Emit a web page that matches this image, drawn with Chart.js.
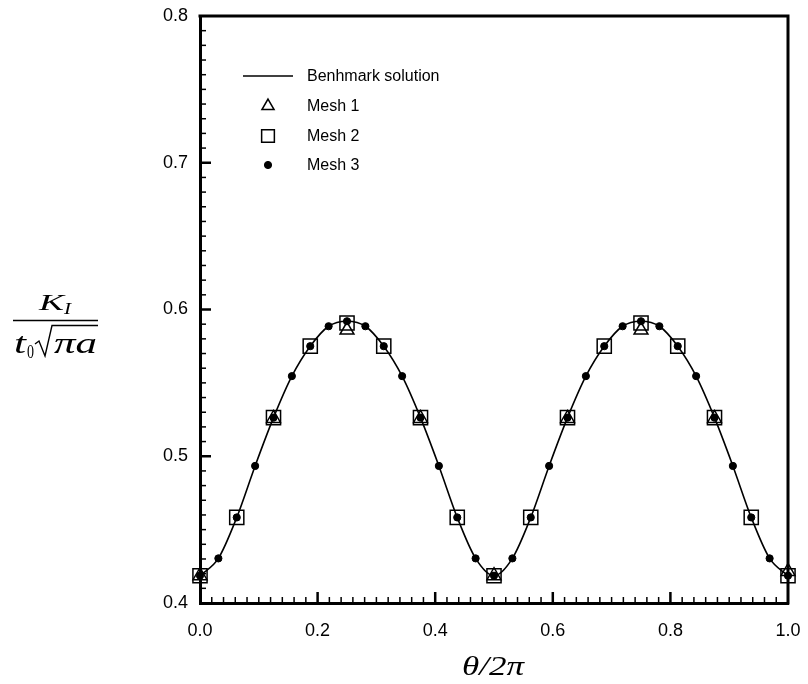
<!DOCTYPE html>
<html lang="en">
<head>
<meta charset="UTF-8">
<title>K_I along the crack front</title>
<script src="https://cdn.jsdelivr.net/npm/chart.js"></script>
<style>
  body { margin: 0; background: #fff; }
  #wrap { width: 808px; height: 684px; }
</style>
</head>
<body>
<div id="wrap"><canvas id="kiChart" width="808" height="684"></canvas></div>
<script>
// theta / 2pi sample positions
const theta32 = [0, 0.03125, 0.0625, 0.09375, 0.125, 0.15625, 0.1875, 0.21875, 0.25,
  0.28125, 0.3125, 0.34375, 0.375, 0.40625, 0.4375, 0.46875, 0.5,
  0.53125, 0.5625, 0.59375, 0.625, 0.65625, 0.6875, 0.71875, 0.75,
  0.78125, 0.8125, 0.84375, 0.875, 0.90625, 0.9375, 0.96875, 1];
const theta16 = [0, 0.0625, 0.125, 0.1875, 0.25, 0.3125, 0.375, 0.4375, 0.5,
  0.5625, 0.625, 0.6875, 0.75, 0.8125, 0.875, 0.9375, 1];
const theta8 = [0, 0.125, 0.25, 0.375, 0.5, 0.625, 0.75, 0.875, 1];

// normalized K_I values
const benchmark = [0.4186, 0.4304, 0.4583, 0.4934, 0.5263, 0.5546, 0.5750, 0.5886, 0.5920,
  0.5886, 0.5750, 0.5546, 0.5263, 0.4934, 0.4583, 0.4304, 0.4186,
  0.4304, 0.4583, 0.4934, 0.5263, 0.5546, 0.5750, 0.5886, 0.5920,
  0.5886, 0.5750, 0.5546, 0.5263, 0.4934, 0.4583, 0.4304, 0.4186];
const mesh1 = [0.4186, 0.5258, 0.5860, 0.5258, 0.4186, 0.5258, 0.5860, 0.5258, 0.4215];
const mesh2 = [0.4186, 0.4583, 0.5263, 0.5750, 0.5908, 0.5750, 0.5263, 0.4583, 0.4186,
  0.4583, 0.5263, 0.5750, 0.5908, 0.5750, 0.5263, 0.4583, 0.4186];
const mesh3 = [0.4186, 0.4304, 0.4583, 0.4934, 0.5263, 0.5546, 0.5750, 0.5886, 0.5920,
  0.5886, 0.5750, 0.5546, 0.5263, 0.4934, 0.4583, 0.4304, 0.4186,
  0.4304, 0.4583, 0.4934, 0.5263, 0.5546, 0.5750, 0.5886, 0.5920,
  0.5886, 0.5750, 0.5546, 0.5263, 0.4934, 0.4583, 0.4304, 0.4186];

const xTicks = [0, 0.2, 0.4, 0.6, 0.8, 1.0];
const yTicks = [0.4, 0.5, 0.6, 0.7, 0.8];

const SANS = '"Liberation Sans", Arial, sans-serif';
const SERIF = '"Liberation Serif", "Times New Roman", serif';

function pts(xs, ys) {
  return xs.map((x, i) => ({ x: x, y: ys[i] }));
}

// draw text squeezed/stretched to a given width
function fitText(ctx, str, x, y, w, font) {
  ctx.font = font;
  const m = ctx.measureText(str).width;
  ctx.save();
  ctx.translate(x, y);
  ctx.scale(w / m, 1);
  ctx.fillText(str, 0, 0);
  ctx.restore();
}

// inward minor/major ticks + top/right frame
const frameTicks = {
  id: 'frameTicks',
  afterDraw(chart) {
    const ctx = chart.ctx, a = chart.chartArea;
    const xs = chart.scales.x, ys = chart.scales.y;
    ctx.save();
    ctx.strokeStyle = '#000';
    ctx.lineWidth = 3;
    ctx.beginPath();
    ctx.moveTo(a.left - 1.5, a.top);
    ctx.lineTo(a.right, a.top);
    ctx.lineTo(a.right, a.bottom + 1.5);
    ctx.stroke();

    for (let i = 1; i < 50; i++) {
      const px = xs.getPixelForValue(i / 50);
      const major = i % 10 === 0;
      ctx.lineWidth = major ? 2.5 : 1.5;
      ctx.beginPath();
      ctx.moveTo(px, a.bottom);
      ctx.lineTo(px, a.bottom - (major ? 11 : 6));
      ctx.stroke();
    }
    for (let i = 1; i < 40; i++) {
      const py = ys.getPixelForValue(0.4 + i / 100);
      const major = i % 10 === 0;
      ctx.lineWidth = major ? 2.5 : 1.5;
      ctx.beginPath();
      ctx.moveTo(a.left, py);
      ctx.lineTo(a.left + (major ? 11 : 6), py);
      ctx.stroke();
    }
    ctx.restore();
  }
};

// axis titles
const axisTitles = {
  id: 'axisTitles',
  afterDraw(chart) {
    const ctx = chart.ctx;
    ctx.save();
    ctx.fillStyle = '#000';
    ctx.strokeStyle = '#000';
    ctx.textAlign = 'left';
    ctx.textBaseline = 'alphabetic';

    // K_I / (t_0 sqrt(pi a))
    fitText(ctx, 'K', 39, 310, 25, 'italic 23px ' + SERIF);
    fitText(ctx, 'I', 64, 314, 7, 'italic 16px ' + SERIF);
    ctx.lineWidth = 1.5;
    ctx.beginPath();
    ctx.moveTo(13, 320.5);
    ctx.lineTo(98, 320.5);
    ctx.stroke();
    fitText(ctx, 't', 14, 353, 12, 'italic 30px ' + SERIF);
    fitText(ctx, '0', 27, 358, 7, '18px ' + SERIF);
    ctx.lineWidth = 1.4;
    ctx.beginPath();
    ctx.moveTo(35, 344);
    ctx.lineTo(39, 341);
    ctx.lineTo(45, 356);
    ctx.lineTo(52, 325.5);
    ctx.lineTo(98, 325.5);
    ctx.stroke();
    fitText(ctx, '\u03C0a', 54, 353, 43, 'italic 30px ' + SERIF);

    // theta / 2 pi
    fitText(ctx, '\u03B8/2\u03C0', 462, 675, 62, 'italic 28px ' + SERIF);
    ctx.restore();
  }
};

// legend inside the plot
const insideLegend = {
  id: 'insideLegend',
  afterDraw(chart) {
    const ctx = chart.ctx;
    const rows = [76, 106, 136, 165];
    const symX = 268, textX = 307;
    ctx.save();
    ctx.font = '16px ' + SANS;
    ctx.textBaseline = 'middle';
    chart.data.datasets.forEach((ds, i) => {
      const y = rows[i];
      ctx.strokeStyle = ds.borderColor;
      ctx.lineWidth = ds.borderWidth;
      if (ds.pointRadius === 0) {
        ctx.beginPath();
        ctx.moveTo(243, y);
        ctx.lineTo(293, y);
        ctx.stroke();
      } else {
        ctx.fillStyle = ds.backgroundColor;
        Chart.helpers.drawPoint(ctx, {
          pointStyle: ds.pointStyle,
          radius: ds.legendRadius,
          borderWidth: ds.borderWidth,
          rotation: 0
        }, symX, y);
      }
      ctx.fillStyle = '#000';
      ctx.fillText(ds.label, textX, y + 1);
    });
    ctx.restore();
  }
};

const tickFont = { family: SANS, size: 18 };

new Chart(document.getElementById('kiChart'), {
  type: 'scatter',
  data: {
    datasets: [
      {
        label: 'Benhmark solution',
        data: pts(theta32, benchmark),
        showLine: true,
        cubicInterpolationMode: 'monotone',
        borderColor: '#000',
        borderWidth: 1.6,
        pointRadius: 0,
        order: 3,
        clip: false
      },
      {
        label: 'Mesh 1',
        data: pts(theta8, mesh1),
        pointStyle: 'triangle',
        pointRadius: 8,
        legendRadius: 7,
        borderColor: '#000',
        backgroundColor: 'rgba(0,0,0,0)',
        borderWidth: 1.5,
        order: 2,
        clip: false
      },
      {
        label: 'Mesh 2',
        data: pts(theta16, mesh2),
        pointStyle: 'rect',
        pointRadius: 10,
        legendRadius: 9,
        borderColor: '#000',
        backgroundColor: 'rgba(0,0,0,0)',
        borderWidth: 1.5,
        order: 1,
        clip: false
      },
      {
        label: 'Mesh 3',
        data: pts(theta32, mesh3),
        pointStyle: 'circle',
        pointRadius: 3.6,
        legendRadius: 3.6,
        borderColor: '#000',
        backgroundColor: '#000',
        borderWidth: 1,
        order: 0,
        clip: false
      }
    ]
  },
  options: {
    responsive: false,
    animation: false,
    devicePixelRatio: 1,
    layout: { padding: { top: 16, right: 20, left: 0, bottom: 0 } },
    plugins: {
      legend: { display: false },
      tooltip: { enabled: false }
    },
    scales: {
      x: {
        type: 'linear',
        min: 0,
        max: 1,
        afterBuildTicks: s => { s.ticks = xTicks.map(v => ({ value: v })); },
        afterFit: s => { s.height = 81; s.paddingLeft = 0; s.paddingRight = 0; },
        ticks: {
          font: tickFont,
          color: '#000',
          padding: 17,
          maxRotation: 0,
          callback: v => v.toFixed(1)
        },
        grid: { display: false, drawTicks: false },
        border: { display: true, color: '#000', width: 3 }
      },
      y: {
        type: 'linear',
        min: 0.4,
        max: 0.8,
        afterBuildTicks: s => { s.ticks = yTicks.map(v => ({ value: v })); },
        afterFit: s => { s.width = 200; s.paddingTop = 0; s.paddingBottom = 0; },
        ticks: {
          font: tickFont,
          color: '#000',
          padding: 12,
          callback: v => v.toFixed(1)
        },
        grid: { display: false, drawTicks: false },
        border: { display: true, color: '#000', width: 3 }
      }
    }
  },
  plugins: [frameTicks, axisTitles, insideLegend]
});
</script>
</body>
</html>
